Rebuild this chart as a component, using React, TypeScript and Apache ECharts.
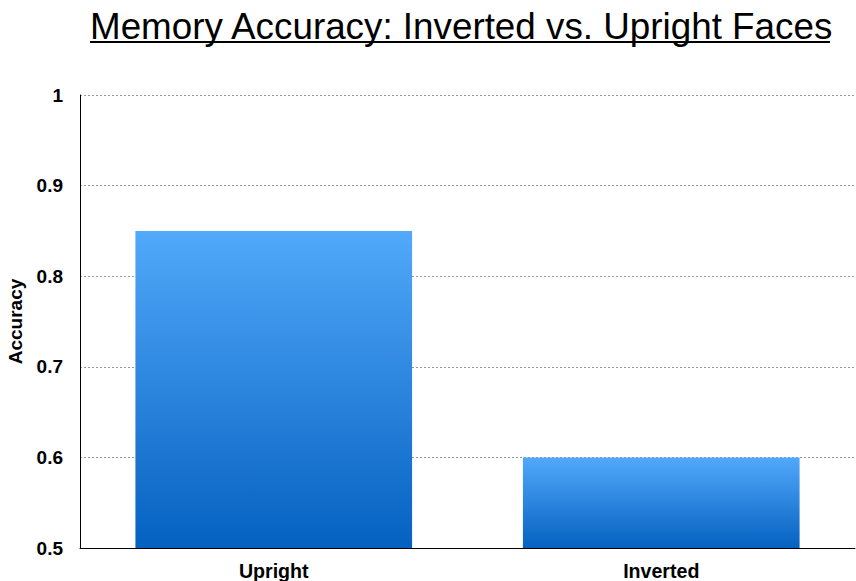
import React, { useEffect, useRef } from "react";
import * as echarts from "echarts";

const categories = ["Upright", "Inverted"];
const accuracy = [0.85, 0.6];
const yTicks = [0.5, 0.6, 0.7, 0.8, 0.9, 1];
const titleText = "Memory Accuracy: Inverted vs. Upright Faces";

const FONT = "'Liberation Sans', Helvetica, Arial, sans-serif";

export default function App() {
  const ref = useRef<HTMLDivElement>(null);
  useEffect(() => {
    const chart = echarts.init(ref.current!, null, { renderer: "svg" });
    chart.setOption({
      animation: false,
      backgroundColor: "#ffffff",
      grid: {
        left: 80,
        right: 1,
        top: 95,
        bottom: 33,
        containLabel: false,
        outerBoundsMode: "none",
      },
      graphic: [
        {
          type: "text",
          x: 90,
          y: 8,
          style: {
            text: titleText,
            font: "36.8px " + FONT,
            fill: "#000",
          },
        },
        {
          type: "line",
          shape: { x1: 90, y1: 42, x2: 830, y2: 42 },
          style: { stroke: "#000", lineWidth: 2 },
        },
      ],
      xAxis: {
        type: "category",
        data: categories,
        axisLine: { show: true, lineStyle: { color: "#000", width: 1 } },
        axisTick: { show: false },
        axisLabel: {
          color: "#000",
          fontWeight: "bold",
          fontSize: 19.6,
          fontFamily: FONT,
          margin: 13,
        },
      },
      yAxis: {
        type: "value",
        min: 0.5,
        max: 1,
        interval: 0.1,
        name: "Accuracy",
        nameLocation: "middle",
        nameGap: 55,
        nameRotate: 90,
        nameTextStyle: {
          color: "#000",
          fontWeight: "bold",
          fontSize: 19,
          fontFamily: FONT,
        },
        axisLine: { show: true, lineStyle: { color: "#000", width: 1 } },
        axisTick: { show: false },
        axisLabel: {
          color: "#000",
          fontWeight: "bold",
          fontSize: 19,
          fontFamily: FONT,
          margin: 17,
          formatter: (v: number) => {
            const t = yTicks.find((x) => Math.abs(x - v) < 1e-9);
            return t === undefined ? "" : String(t);
          },
        },
        splitLine: {
          show: true,
          lineStyle: { color: "#999", type: [2, 2], width: 1 },
        },
      },
      series: [
        {
          type: "bar",
          data: accuracy,
          barWidth: "71.4%",
          itemStyle: {
            color: new echarts.graphic.LinearGradient(0, 0, 0, 1, [
              { offset: 0, color: "#52a9fa" },
              { offset: 1, color: "#0561c0" },
            ]),
          },
        },
      ],
    });
    return () => chart.dispose();
  }, []);
  return (
    <div
      ref={ref}
      style={{ position: "fixed", left: 0, top: 0, width: 856, height: 581 }}
    />
  );
}
